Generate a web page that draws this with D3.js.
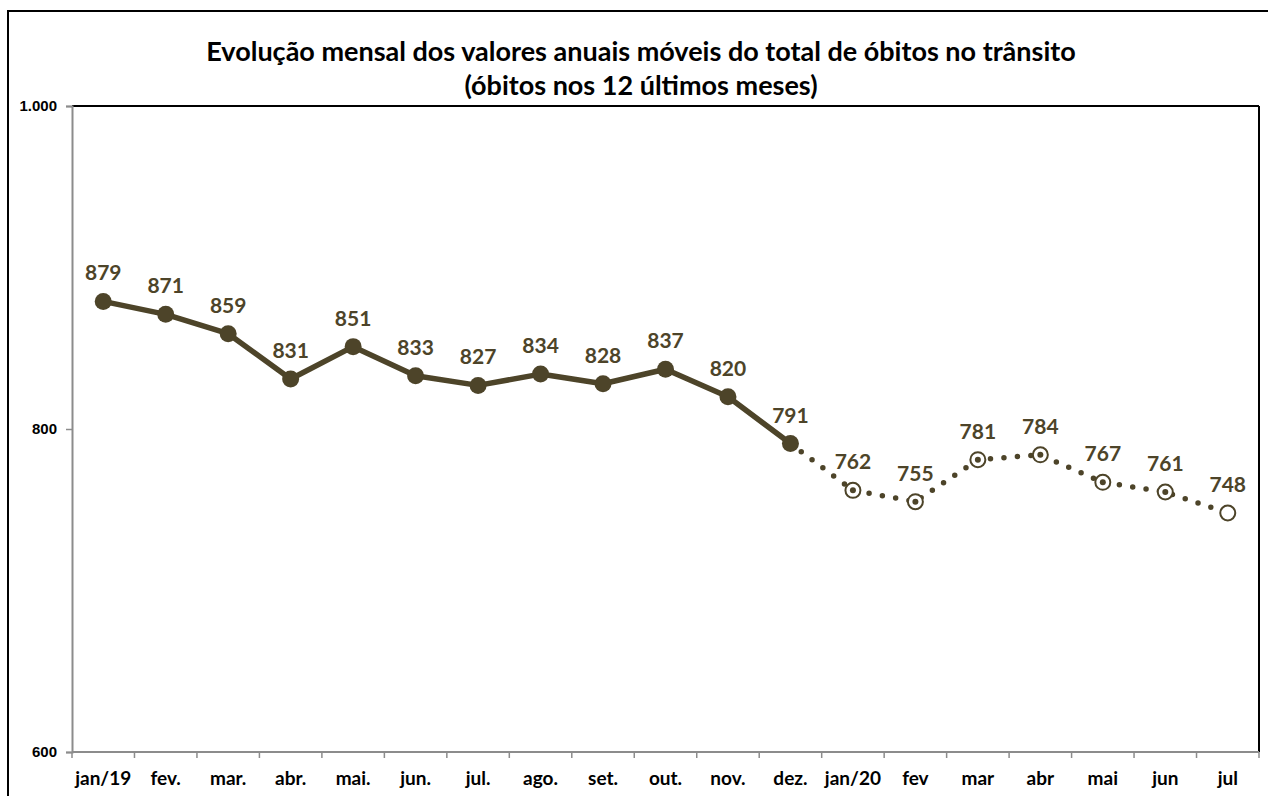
<!DOCTYPE html>
<html><head><meta charset="utf-8">
<script src="https://cdn.jsdelivr.net/npm/d3@7"></script>
<style>
html,body{margin:0;padding:0;background:#fff;}
svg{display:block;font-family:Lato, "Open Sans", sans-serif;}
</style></head>
<body>
<svg id="chart" width="1268" height="796"></svg>
<script>
const categories = ["jan/19","fev.","mar.","abr.","mai.","jun.","jul.","ago.","set.","out.","nov.","dez.","jan/20","fev","mar","abr","mai","jun","jul"];
const values = [879,871,859,831,851,833,827,834,828,837,820,791,762,755,781,784,767,761,748];
const solidCount = 12; // jan/19 .. dez. drawn solid
const yTicks = [600,800,1000];
const titleLines = ["Evolução mensal dos valores anuais móveis do total de óbitos no trânsito","(óbitos nos 12 últimos meses)"];

const color = "#4d4429";
const svg = d3.select("#chart");
const plot = {left:72, right:1259, top:106, bottom:752};

// outer border (cropped on right/bottom in reference)
svg.append("rect").attr("x",8).attr("y",11).attr("width",1300).attr("height",900)
  .attr("fill","none").attr("stroke","#000").attr("stroke-width",2);

const x = d3.scaleBand().domain(categories).range([plot.left, plot.right]).padding(0);
const y = d3.scaleLinear().domain([600,1000]).range([plot.bottom, plot.top]);

// plot area border top/right black
svg.append("line").attr("x1",plot.left).attr("x2",plot.right).attr("y1",plot.top).attr("y2",plot.top)
  .attr("stroke","#000").attr("stroke-width",2);
svg.append("line").attr("x1",plot.right).attr("x2",plot.right).attr("y1",plot.top).attr("y2",plot.bottom)
  .attr("stroke","#000").attr("stroke-width",2);

// y axis
const yAxis = d3.axisLeft(y).tickValues(yTicks).tickSize(6).tickPadding(8)
  .tickFormat(d => d3.format(",")(d).replace(/,/g,"."));
const gy = svg.append("g").attr("transform",`translate(${plot.left},0)`).call(yAxis);
gy.select(".domain").attr("stroke","#8c8c8c").attr("stroke-width",2);
gy.selectAll(".tick line").attr("stroke","#8c8c8c").attr("stroke-width",1.5);
gy.selectAll(".tick text").attr("font-size",15).attr("font-weight","bold").attr("fill","#000").attr("x",-15);

// x axis: line + ticks at band boundaries
svg.append("line").attr("x1",plot.left).attr("x2",plot.right).attr("y1",plot.bottom).attr("y2",plot.bottom)
  .attr("stroke","#8c8c8c").attr("stroke-width",2);
const bounds = categories.map(c => x(c)).concat([x(categories[categories.length-1]) + x.bandwidth()]);
svg.append("g").selectAll("line").data(bounds).join("line")
  .attr("x1",d=>d).attr("x2",d=>d).attr("y1",plot.bottom).attr("y2",plot.bottom+6)
  .attr("stroke","#8c8c8c").attr("stroke-width",1.5);
svg.append("g").selectAll("text").data(categories).join("text")
  .attr("x",d=>x(d)+x.bandwidth()/2).attr("y",785)
  .attr("text-anchor","middle").attr("font-size",19).attr("font-weight","bold").attr("fill","#000")
  .text(d=>d);

const pts = categories.map((c,i)=>({c, v:values[i], i, cx:x(c)+x.bandwidth()/2, cy:y(values[i])}));
const line = d3.line().x(d=>d.cx).y(d=>d.cy);

// dotted part
svg.append("path").datum(pts.slice(solidCount-1))
  .attr("d",line).attr("fill","none").attr("stroke",color).attr("stroke-width",5.5)
  .attr("stroke-linecap","round").attr("stroke-dasharray","0 13.5");
// solid part
svg.append("path").datum(pts.slice(0,solidCount))
  .attr("d",line).attr("fill","none").attr("stroke",color).attr("stroke-width",5.5)
  .attr("stroke-linejoin","round");

// solid markers
svg.append("g").selectAll("circle").data(pts.slice(0,solidCount)).join("circle")
  .attr("cx",d=>d.cx).attr("cy",d=>d.cy).attr("r",8.5).attr("fill",color);
// open markers
const open = pts.slice(solidCount);
svg.append("g").selectAll("circle").data(open).join("circle")
  .attr("cx",d=>d.cx).attr("cy",d=>d.cy).attr("r",7.5).attr("fill","#fff")
  .attr("stroke",color).attr("stroke-width",2);
svg.append("g").selectAll("circle").data(open.slice(0,open.length-1)).join("circle")
  .attr("cx",d=>d.cx).attr("cy",d=>d.cy).attr("r",3).attr("fill",color);

// labels
svg.append("g").selectAll("text").data(pts).join("text")
  .attr("x",d=>d.cx).attr("y",d=>d.cy-21)
  .attr("text-anchor","middle").attr("font-size",21).attr("font-weight","bold").attr("fill",color)
  .text(d=>d.v);

// title
svg.append("g").selectAll("text").data(titleLines).join("text")
  .attr("x",641).attr("y",(d,i)=>61+i*34)
  .attr("text-anchor","middle").attr("font-size",27).attr("font-weight","bold").attr("fill","#000")
  .text(d=>d);
</script>
</body></html>
